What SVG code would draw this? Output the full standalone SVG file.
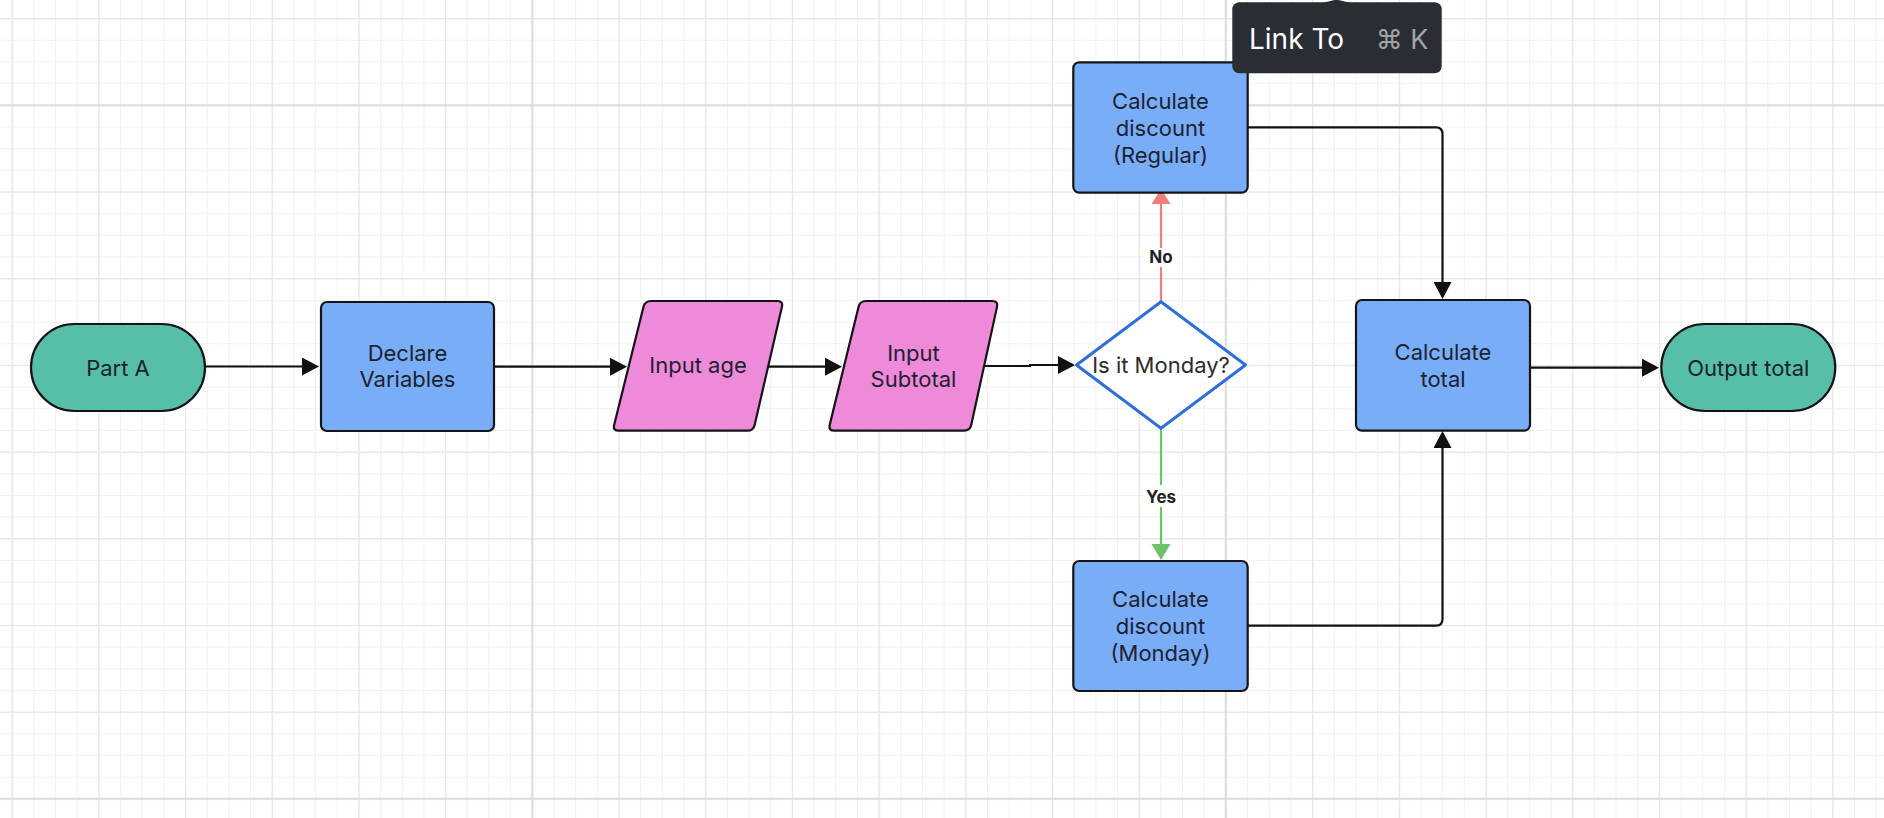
<svg xmlns="http://www.w3.org/2000/svg" width="1884" height="818" viewBox="0 0 1884 818">
<style>
.node-text{font-family:Inter,"Liberation Sans",sans-serif;font-size:22px;fill:#1b2230;text-anchor:middle}
.lbl{font-family:Inter,"Liberation Sans",sans-serif;font-size:17px;font-weight:700;fill:#222;text-anchor:middle}
.box{fill:#7aadf7;stroke:#141414;stroke-width:2.2}
.term{fill:#57bfa8;stroke:#141414;stroke-width:2.2}
.io{fill:#ef89da;stroke:#141414;stroke-width:2.2;stroke-linejoin:round}
.conn{fill:none;stroke:#111;stroke-width:2.2}
</style>
<defs>
<pattern id="gMinor" patternUnits="userSpaceOnUse" x="11.6" y="18.1" width="21.675" height="21.675">
<rect x="0" y="0" width="1" height="21.675" fill="#f1f1f1"/>
<rect x="0" y="0" width="21.675" height="1" fill="#f1f1f1"/>
</pattern>
<pattern id="gMid" patternUnits="userSpaceOnUse" x="11.6" y="18.1" width="86.7" height="86.7">
<rect x="0" y="0" width="1.2" height="86.7" fill="#e6e6e6"/>
<rect x="0" y="0" width="86.7" height="1.2" fill="#e6e6e6"/>
</pattern>
<pattern id="gMajor" patternUnits="userSpaceOnUse" x="531.3" y="104.3" width="693.4" height="693.4">
<rect x="0" y="0" width="2" height="693.4" fill="#dedede"/>
<rect x="0" y="0" width="693.4" height="2" fill="#dedede"/>
</pattern>
<marker id="ah" markerUnits="userSpaceOnUse" markerWidth="18" markerHeight="18" refX="7" refY="9" orient="auto">
<path d="M0,0 L17,9 L0,18 Z" fill="#111"/>
</marker>
<marker id="ahR" markerUnits="userSpaceOnUse" markerWidth="20" markerHeight="20" refX="5" refY="9.5" orient="auto">
<path d="M0,0 L15,9.5 L0,19 Z" fill="#f07f7a"/>
</marker>
<marker id="ahG" markerUnits="userSpaceOnUse" markerWidth="20" markerHeight="20" refX="6" refY="9.5" orient="auto">
<path d="M0,0 L16,9.5 L0,19 Z" fill="#6cc16a"/>
</marker>
</defs>
<rect width="1884" height="818" fill="#ffffff"/>
<rect width="1884" height="818" fill="url(#gMinor)"/>
<rect width="1884" height="818" fill="url(#gMid)"/>
<rect width="1884" height="818" fill="url(#gMajor)"/>

<g id="connectors">
<path class="conn" d="M205 366.5 H309" marker-end="url(#ah)"/>
<path class="conn" d="M494 366.7 H617" marker-end="url(#ah)"/>
<path class="conn" d="M768 366.7 H832" marker-end="url(#ah)"/>
<path class="conn" d="M984 366 H1030 V365 H1065" marker-end="url(#ah)"/>
<path fill="none" stroke="#f07f7a" stroke-width="2.2" d="M1161 301.7 V199" marker-end="url(#ahR)"/>
<path fill="none" stroke="#6cc16a" stroke-width="2.2" d="M1161 428.3 V550" marker-end="url(#ahG)"/>
<path class="conn" d="M1248 127.3 H1436 Q1442.5 127.3 1442.5 134 V289" marker-end="url(#ah)"/>
<path class="conn" d="M1248 625.7 H1436 Q1442.5 625.7 1442.5 619 V441" marker-end="url(#ah)"/>
<path class="conn" d="M1530 367.7 H1649" marker-end="url(#ah)"/>
<g id="label-no">
<rect x="1145" y="248" width="32" height="19" fill="#ffffff"/>
<text class="lbl" x="1161" y="262.7">No</text>
</g>
<g id="label-yes">
<rect x="1144" y="485" width="34" height="22" fill="#ffffff"/>
<text class="lbl" x="1161" y="502.7">Yes</text>
</g>
</g>

<g id="part-a">
<rect class="term" x="31" y="324" width="174" height="87" rx="43.5"/>
<text class="node-text" x="118" y="376">Part A</text>
</g>

<g id="declare-variables">
<rect class="box" x="321" y="302" width="173" height="129" rx="6"/>
<text class="node-text" x="407.5" y="361">Declare</text>
<text class="node-text" x="407.5" y="387">Variables</text>
</g>

<g id="input-age">
<path class="io" d="M651 301 H777.3 Q783.3 301 781.95 306.8 L754.65 424.9 Q753.3 430.7 747.3 430.7 H618.7 Q612.7 430.7 614.15 424.9 L643.5 306.8 Q645 301 651 301 Z"/>
<text class="node-text" x="698" y="373.3">Input age</text>
</g>

<g id="input-subtotal">
<path class="io" d="M866 301 H992.3 Q998.3 301 997.02 306.86 L971.28 424.84 Q970 430.7 964 430.7 H834.3 Q828.3 430.7 829.72 424.87 L858.58 306.83 Q860 301 866 301 Z"/>
<text class="node-text" x="913.5" y="360.7">Input</text>
<text class="node-text" x="913.5" y="386.7">Subtotal</text>
</g>

<g id="is-it-monday">
<polygon points="1161,301.7 1245.5,365 1161,428.3 1076.5,365" fill="#ffffff" stroke="#2f6fdb" stroke-width="3" stroke-linejoin="round"/>
<text class="node-text" x="1161" y="373.3" style="fill:#2b2b2b">Is it Monday?</text>
</g>

<g id="calc-discount-regular">
<rect class="box" x="1073.3" y="62.3" width="174.4" height="130.4" rx="6"/>
<text class="node-text" x="1160.5" y="109">Calculate</text>
<text class="node-text" x="1160.5" y="136">discount</text>
<text class="node-text" x="1160.5" y="163">(Regular)</text>
</g>

<g id="calc-discount-monday">
<rect class="box" x="1073.3" y="561" width="174.4" height="130" rx="6"/>
<text class="node-text" x="1160.5" y="607">Calculate</text>
<text class="node-text" x="1160.5" y="634">discount</text>
<text class="node-text" x="1160.5" y="661">(Monday)</text>
</g>

<g id="calc-total">
<rect class="box" x="1356" y="300" width="174" height="130.7" rx="6"/>
<text class="node-text" x="1443" y="360">Calculate</text>
<text class="node-text" x="1443" y="386.7">total</text>
</g>

<g id="output-total">
<rect class="term" x="1661.3" y="324" width="174" height="87" rx="43.5"/>
<text class="node-text" x="1748.3" y="375.7">Output total</text>
</g>

<g id="tooltip">
<path d="M1322 3 L1333.5 0.3 Q1336.5 -0.5 1339.5 0.3 L1351 3 Z" fill="#2a2d34"/>
<rect x="1232.3" y="2.3" width="209.4" height="71" rx="7" fill="#2a2d34"/>
<text x="1249" y="49.3" style="font-family:Inter,'Liberation Sans',sans-serif;font-size:28px;fill:#ffffff">Link To</text>
<text x="1375.7" y="49.3" style="font-family:Inter,'DejaVu Sans',sans-serif;font-size:27px;fill:#a0a3a9">⌘ K</text>
</g>
</svg>
